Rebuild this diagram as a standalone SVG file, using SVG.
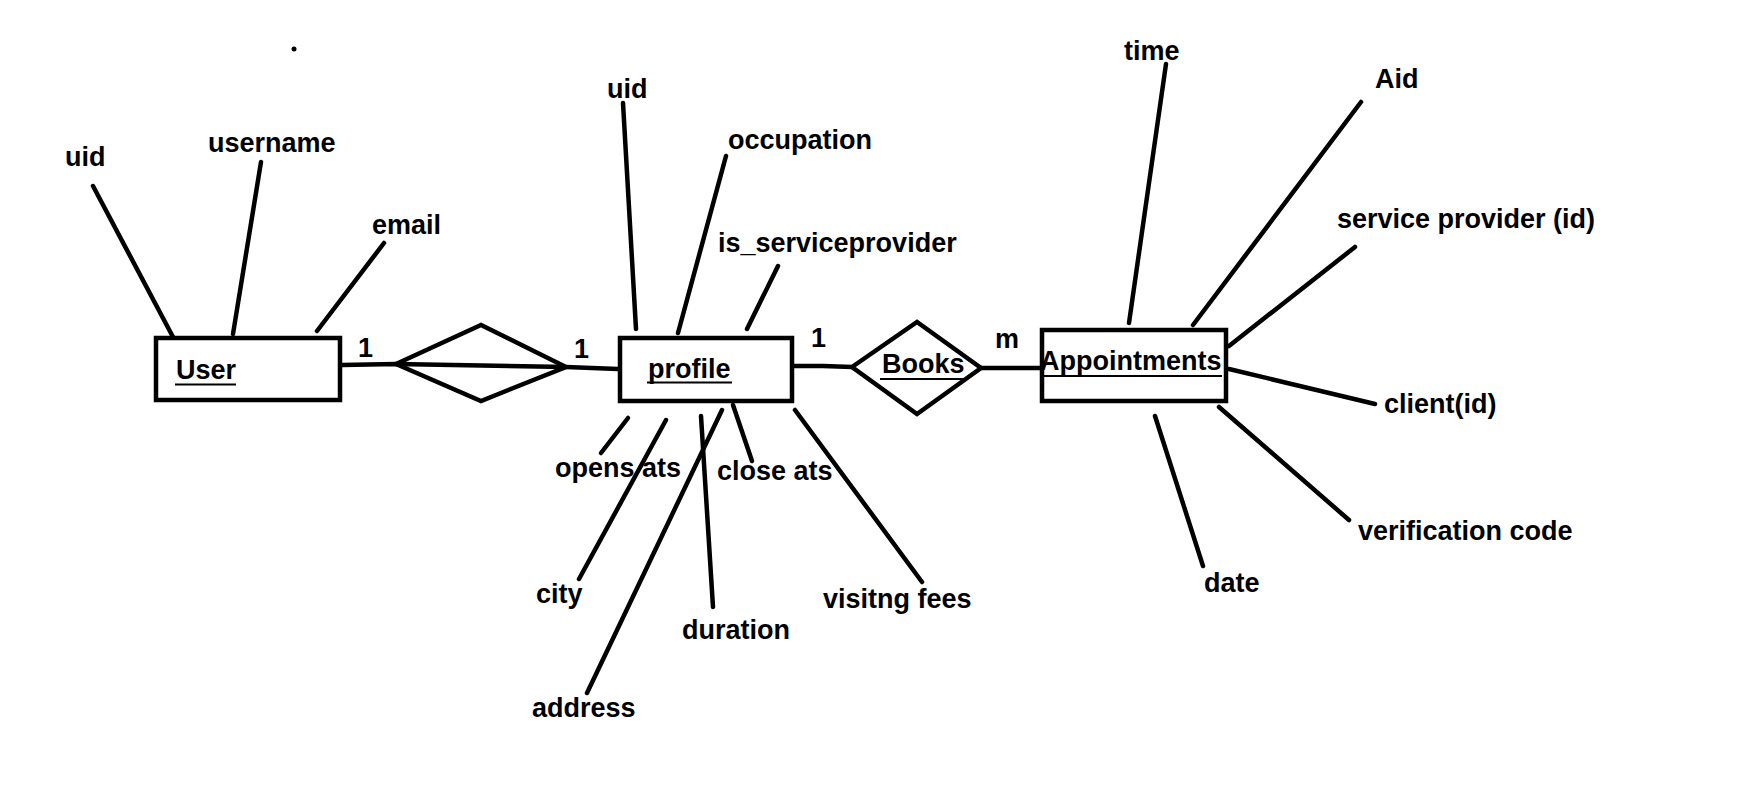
<svg xmlns="http://www.w3.org/2000/svg" width="1738" height="792" viewBox="0 0 1738 792">
<style>
text{font-family:"Liberation Sans",Arial,sans-serif;font-weight:bold;font-size:27px;fill:#000}
.ent{fill:none;stroke:#000;stroke-width:4.5}
.rel{fill:none;stroke:#000;stroke-width:4.5;stroke-linejoin:miter}
.ln{stroke:#000;stroke-width:4.5;stroke-linecap:round;fill:none}
.ul{stroke:#000;stroke-width:2.2}
</style>
<rect width="1738" height="792" fill="#fff"/>
<circle cx="294" cy="49" r="2.5" fill="#000"/>

<g id="connectors">
  <!-- User attributes -->
  <line class="ln" x1="93" y1="186" x2="173" y2="337"/>
  <line class="ln" x1="261" y1="162" x2="233" y2="334"/>
  <line class="ln" x1="384" y1="243" x2="317" y2="331"/>
  <!-- User - relationship - profile -->
  <polyline class="ln" points="342,365 396,364 566,367 618,369"/>
  <!-- profile top attributes -->
  <line class="ln" x1="623" y1="103" x2="636" y2="329"/>
  <line class="ln" x1="726" y1="156" x2="678" y2="333"/>
  <line class="ln" x1="778" y1="266" x2="747" y2="329"/>
  <!-- profile bottom attributes -->
  <line class="ln" x1="628" y1="418" x2="601" y2="453"/>
  <line class="ln" x1="666" y1="420" x2="579" y2="579"/>
  <line class="ln" x1="701" y1="416" x2="713" y2="607"/>
  <line class="ln" x1="722" y1="410" x2="587" y2="693"/>
  <line class="ln" x1="733" y1="405" x2="752" y2="461"/>
  <line class="ln" x1="795" y1="410" x2="922" y2="582"/>
  <!-- profile - Books - Appointments -->
  <polyline class="ln" points="794,366 823,366 852,367"/>
  <polyline class="ln" points="981,368 1040,368"/>
  <!-- Appointments attributes -->
  <line class="ln" x1="1166" y1="64" x2="1129" y2="323"/>
  <line class="ln" x1="1361" y1="102" x2="1193" y2="325"/>
  <line class="ln" x1="1355" y1="247" x2="1229" y2="346"/>
  <line class="ln" x1="1229" y1="369" x2="1375" y2="404"/>
  <line class="ln" x1="1219" y1="407" x2="1349" y2="520"/>
  <line class="ln" x1="1155" y1="416" x2="1203" y2="566"/>
  <!-- cardinalities -->
  <text x="358" y="357">1</text>
  <text x="574" y="358">1</text>
  <text x="811" y="347">1</text>
  <text x="995" y="348">m</text>
</g>

<g id="user">
  <rect class="ent" x="156" y="338" width="184" height="62"/>
  <text x="176" y="379">User</text>
  <line class="ul" x1="175" y1="384.5" x2="236" y2="384.5"/>
</g>
<g id="user-profile-rel">
  <polygon class="rel" points="396,364 481,325 566,367 481,401"/>
</g>
<g id="profile">
  <rect class="ent" x="620" y="338" width="172" height="63"/>
  <text x="648" y="378">profile</text>
  <line class="ul" x1="647" y1="382.5" x2="732" y2="382.5"/>
</g>
<g id="books">
  <polygon class="rel" points="852,367 917,322 981,368 917,414"/>
  <text x="882" y="373">Books</text>
  <line class="ul" x1="880" y1="379" x2="965" y2="379"/>
</g>
<g id="appointments">
  <rect class="ent" x="1042" y="330" width="184" height="71"/>
  <text x="1040" y="370">Appointments</text>
  <line class="ul" x1="1040" y1="376" x2="1222" y2="376"/>
</g>

<g id="attr-user-uid"><text x="65" y="166">uid</text></g>
<g id="attr-username"><text x="208" y="152">username</text></g>
<g id="attr-email"><text x="372" y="234">email</text></g>

<g id="attr-profile-uid"><text x="607" y="98">uid</text></g>
<g id="attr-occupation"><text x="728" y="149">occupation</text></g>
<g id="attr-is-serviceprovider"><text x="718" y="252">is_serviceprovider</text></g>
<g id="attr-opens-ats"><text x="555" y="477">opens ats</text></g>
<g id="attr-close-ats"><text x="717" y="480">close ats</text></g>
<g id="attr-city"><text x="536" y="603">city</text></g>
<g id="attr-duration"><text x="682" y="639">duration</text></g>
<g id="attr-address"><text x="532" y="717">address</text></g>
<g id="attr-visiting-fees"><text x="823" y="608">visitng fees</text></g>

<g id="attr-time"><text x="1124" y="60">time</text></g>
<g id="attr-aid"><text x="1375" y="88">Aid</text></g>
<g id="attr-service-provider"><text x="1337" y="228">service provider (id)</text></g>
<g id="attr-client"><text x="1384" y="413">client(id)</text></g>
<g id="attr-verification"><text x="1358" y="540">verification code</text></g>
<g id="attr-date"><text x="1204" y="592">date</text></g>
</svg>
